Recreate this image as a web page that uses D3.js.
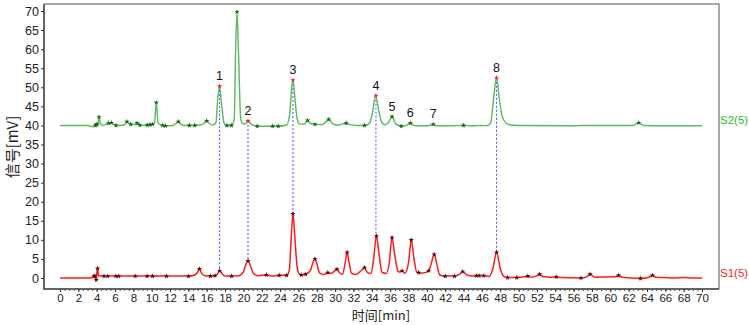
<!DOCTYPE html>
<html>
<head>
<meta charset="utf-8">
<script src="https://cdn.jsdelivr.net/npm/d3@7"></script>
<style>
  html, body { margin: 0; padding: 0; background: #ffffff; }
  svg { display: block; font-family: "Liberation Sans", Arial, sans-serif; }
</style>
</head>
<body>
<div id="chart"></div>
<script>
const WIDTH = 749;
const HEIGHT = 325;

// S2(5) trace: [time (min), signal (mV)]
const s2Trace = [
    [0, 40], [3.0, 40], [3.5, 39.7], [3.8, 39.9], [4.0, 40.3], [4.15, 40.4], [4.25, 42.2], [4.4, 40.5],
    [4.7, 40.0], [5.0, 40.3], [5.3, 40.6], [5.6, 40.7], [5.9, 40.2], [6.1, 40.0], [6.6, 40], [7.0, 40.1],
    [7.3, 41.0], [7.6, 40.3], [7.8, 40.3], [8.1, 40.2], [8.4, 40.6], [8.7, 40.1], [9.0, 40], [9.5, 40.1],
    [9.8, 40.2], [10.1, 40.3], [10.3, 40.6], [10.5, 46], [10.7, 40.6], [11.0, 40.1], [11.2, 40], [11.5, 39.9],
    [12.3, 40], [12.6, 40.4], [12.9, 41.0], [13.2, 40.3], [13.6, 40], [14.1, 40], [14.7, 40], [15.3, 40.1],
    [15.7, 40.5], [16.0, 41.2], [16.3, 40.5], [16.7, 40.1], [17.0, 40.8], [17.2, 47], [17.4, 50.3], [17.6, 46],
    [17.85, 41], [18.0, 40.1], [18.2, 40], [18.7, 40], [19.0, 41.8], [19.15, 60], [19.3, 69.8], [19.45, 60],
    [19.7, 42], [19.9, 40.5], [20.2, 40.4], [20.5, 41.2], [20.8, 40.4], [21.1, 40], [21.5, 39.8], [22.5, 39.8],
    [23.2, 39.8], [23.8, 39.8], [24.7, 40.1], [25.05, 43], [25.25, 49.5], [25.4, 51.9], [25.6, 47.5], [25.85, 41.8],
    [26.1, 40.4], [26.6, 40.3], [27.0, 41.3], [27.3, 40.5], [27.8, 40.3], [28.3, 40.2], [28.8, 40.5], [29.3, 41.6],
    [29.7, 40.5], [30.3, 40.1], [30.8, 40.4], [31.2, 40.6], [31.6, 40.2], [32.5, 40], [33.2, 40], [33.7, 40.4],
    [34.05, 43], [34.4, 47.8], [34.75, 44], [35.05, 41], [35.4, 40.2], [35.8, 40.7], [36.2, 42.3], [36.6, 40.4],
    [37.2, 39.8], [37.8, 40.1], [38.2, 40.6], [38.6, 40], [39.5, 39.9], [40.3, 40], [40.7, 40.3], [41.1, 39.9],
    [42.5, 39.9], [44.0, 40], [45.0, 39.9], [46.0, 40], [46.5, 39.9], [46.95, 40.6], [47.3, 47.5], [47.6, 52.5],
    [47.9, 47], [48.2, 42.5], [48.6, 40.7], [49.2, 40.1], [50, 40], [56, 39.9], [57, 40], [62.5, 40],
    [63.1, 40.7], [63.6, 40], [66, 39.9], [70, 39.9]
];

// S1(5) trace: [time (min), signal (mV)]
const s1Trace = [
    [0, 0], [3.3, 0], [3.6, 0.3], [3.8, 0.6], [3.95, -0.5], [4.0, 1.0], [4.1, 2.5], [4.2, 0.6],
    [4.5, 0.5], [4.8, 0.5], [5.2, 0.5], [6.1, 0.5], [6.4, 0.5], [8.2, 0.5], [9.5, 0.5], [10.1, 0.5],
    [11.6, 0.5], [14.0, 0.5], [14.7, 0.8], [15.0, 1.5], [15.2, 2.4], [15.45, 1.2], [15.8, 0.6], [16.4, 0.5],
    [16.9, 0.6], [17.2, 1.2], [17.4, 1.9], [17.7, 1.0], [18.0, 0.5], [18.7, 0.5], [19.5, 0.6], [20.0, 1.6],
    [20.3, 3.8], [20.5, 4.5], [20.8, 3.0], [21.1, 1.2], [21.6, 0.6], [22.5, 0.8], [23.2, 0.5], [23.9, 0.7],
    [24.7, 0.7], [25.0, 2], [25.2, 10], [25.4, 16.8], [25.6, 11], [25.85, 3], [26.1, 1.0], [26.3, 0.8],
    [26.8, 1.0], [27.3, 2], [27.6, 4.2], [27.8, 5.0], [28.0, 3.8], [28.3, 1.3], [28.7, 0.9], [29.2, 1.4],
    [29.6, 1.2], [30.0, 2], [30.2, 2.3], [30.5, 1.3], [30.8, 1.0], [31.1, 4], [31.3, 6.7], [31.5, 4.3],
    [31.8, 1.2], [32.3, 0.9], [32.9, 2.1], [33.2, 2.7], [33.5, 1.5], [33.9, 1.2], [34.2, 5], [34.5, 11.0],
    [34.8, 6], [35.1, 1.5], [35.6, 1.2], [35.9, 4], [36.2, 10.6], [36.5, 6], [36.85, 1.8], [37.0, 1.6],
    [37.3, 1.9], [37.6, 1.2], [38.0, 4], [38.3, 10.0], [38.6, 5], [38.9, 1.5], [39.1, 1.4], [39.6, 1.3],
    [40.2, 1.9], [40.5, 4], [40.8, 6.2], [41.1, 3.5], [41.4, 0.8], [42.0, 0.5], [43.0, 0.5], [43.6, 1.0],
    [43.9, 1.7], [44.3, 0.9], [45.0, 0.5], [45.4, 0.6], [45.7, 0.6], [46.2, 0.6], [46.8, 0.4], [47.2, 2.5],
    [47.6, 6.7], [48.0, 2.5], [48.4, 0.4], [48.8, 0.1], [49.8, 0.1], [50.6, 0.3], [51.0, 0.5], [51.5, 0.2],
    [52.0, 0.6], [52.3, 1.0], [52.7, 0.3], [53.5, 0.2], [54.1, 0.3], [54.6, 0.1], [56.8, 0.0], [57.4, 0.3],
    [57.8, 1.0], [58.3, 0.2], [60.5, 0.3], [60.9, 0.7], [61.3, 0.2], [63.3, -0.1], [64.2, 0.2], [64.6, 0.7],
    [65.0, 0.2], [66, 0.1], [67, 0.0], [68, 0.1], [69, 0.0], [70, 0.0]
];

// Integration markers on S2 (dark green)
const s2Marks = [
    [3.85, 40.0], [3.95, 40.2], [4.05, 40.3], [4.25, 42.2], [5.3, 40.6], [5.6, 40.7], [6.1, 40.0], [7.3, 41.0],
    [7.7, 40.3], [8.4, 40.6], [8.7, 40.1], [9.5, 40.1], [9.8, 40.2], [10.1, 40.3], [10.5, 46], [11.2, 40],
    [11.5, 39.9], [12.9, 41.0], [14.1, 40], [14.7, 40], [16.0, 41.2], [18.2, 40], [18.7, 40], [19.3, 69.8],
    [21.5, 39.8], [23.2, 39.8], [23.8, 39.8], [27.0, 41.3], [27.8, 40.3], [29.3, 41.6], [31.2, 40.6], [33.2, 40],
    [36.2, 42.3], [37.2, 39.8], [38.2, 40.6], [40.7, 40.3], [44.0, 40], [63.1, 40.7]
];

// Integration markers on S1 (dark red)
const s1Marks = [
    [3.7, 0.4], [3.8, 0.6], [3.95, -0.5], [4.1, 2.5], [4.8, 0.5], [5.2, 0.5], [6.1, 0.5], [6.4, 0.5],
    [8.2, 0.5], [9.5, 0.5], [10.1, 0.5], [11.6, 0.5], [14.0, 0.5], [15.2, 2.4], [16.4, 0.5], [16.9, 0.6],
    [17.4, 1.9], [18.7, 0.5], [20.5, 4.5], [22.5, 0.8], [23.9, 0.7], [24.7, 0.7], [25.4, 16.8], [26.3, 0.8],
    [26.8, 1.0], [27.8, 5.0], [29.2, 1.4], [30.2, 2.3], [31.3, 6.7], [33.2, 2.7], [34.5, 11.0], [36.2, 10.6],
    [37.3, 1.9], [38.3, 10.0], [39.1, 1.4], [40.2, 1.9], [40.8, 6.2], [42.0, 0.5], [43.0, 0.5], [43.9, 1.7],
    [45.4, 0.6], [45.7, 0.6], [46.2, 0.6], [47.6, 6.7], [48.8, 0.1], [49.8, 0.1], [51.0, 0.5], [52.3, 1.0],
    [54.1, 0.3], [56.8, 0.0], [57.8, 1.0], [60.9, 0.7], [63.3, -0.1], [64.6, 0.7]
];

// Numbered peaks on S2; matched ones carry the S1 apex for the connecting line
const peakLabels = ["1", "2", "3", "4", "5", "6", "7", "8"];
const peakTimes = [17.4, 20.5, 25.4, 34.45, 36.2, 38.2, 40.7, 47.6];
const peakS2 = [50.3, 41.2, 51.9, 47.8, 42.3, 40.6, 40.3, 52.5];
const peakMatched = [true, true, true, true, false, false, false, true];
const peakS1 = [1.9, 4.5, 16.8, 11.0, null, null, null, 6.7];

const xTicks = d3.range(0, 71, 2);
const xMinorTicks = d3.range(0, 70.01, 0.5);
const yTicks = d3.range(0, 71, 5);

const FRAME = { left: 44, top: 4, right: 719, bottom: 289 };

const svg = d3.select("#chart")
    .append("svg")
    .attr("width", WIDTH)
    .attr("height", HEIGHT);

const x = d3.scaleLinear().domain([0, 70]).range([60, 702]);
const y = d3.scaleLinear().domain([0, 70]).range([278, 11]);

// Frame: gray top/right, dark left/bottom
svg.append("path")
    .attr("d", `M${FRAME.left},${FRAME.top}H${FRAME.right}V${FRAME.bottom}`)
    .attr("fill", "none")
    .attr("stroke", "#8c8c8c")
    .attr("stroke-width", 1.5);

svg.append("path")
    .attr("d", `M${FRAME.left},${FRAME.top}V${FRAME.bottom}H${FRAME.right}`)
    .attr("fill", "none")
    .attr("stroke", "#333333")
    .attr("stroke-width", 1.5);

// Y axis
const yAxis = svg.append("g")
    .attr("transform", `translate(${FRAME.left},0)`)
    .call(d3.axisLeft(y).tickValues(yTicks).tickSize(3).tickPadding(2));
yAxis.select(".domain").remove();
yAxis.selectAll(".tick line").attr("stroke", "#333333");
yAxis.selectAll(".tick text")
    .style("font-size", "12.5px")
    .style("fill", "#222222");

// X axis: minor then major ticks
const xMinor = svg.append("g")
    .attr("transform", `translate(0,${FRAME.bottom})`)
    .call(d3.axisBottom(x).tickValues(xMinorTicks).tickSize(2).tickFormat(""));
xMinor.select(".domain").remove();
xMinor.selectAll(".tick line").attr("stroke", "#555555");

const xAxis = svg.append("g")
    .attr("transform", `translate(0,${FRAME.bottom})`)
    .call(d3.axisBottom(x).tickValues(xTicks).tickSize(3).tickPadding(2));
xAxis.select(".domain").remove();
xAxis.selectAll(".tick line").attr("stroke", "#333333");
xAxis.selectAll(".tick text")
    .style("font-size", "11.5px")
    .style("fill", "#222222");

// Axis titles
svg.append("text")
    .attr("transform", `translate(18,147) rotate(-90)`)
    .attr("text-anchor", "middle")
    .style("font-family", "\"Noto Sans CJK SC\", sans-serif")
    .style("font-size", "15px")
    .style("fill", "#222222")
    .text("信号[mV]");

svg.append("text")
    .attr("x", 381)
    .attr("y", 320)
    .attr("text-anchor", "middle")
    .style("font-family", "\"Noto Sans CJK SC\", sans-serif")
    .style("font-size", "13px")
    .style("fill", "#222222")
    .text("时间[min]");

// Dotted connectors between matched peaks
const linkIdx = d3.range(peakTimes.length).filter(i => peakMatched[i]);
svg.append("g")
    .selectAll("line")
    .data(linkIdx)
    .join("line")
    .attr("x1", i => x(peakTimes[i]))
    .attr("x2", i => x(peakTimes[i]))
    .attr("y1", i => y(peakS2[i]))
    .attr("y2", i => y(peakS1[i]))
    .attr("stroke", "#4a4aff")
    .attr("stroke-width", 1)
    .attr("stroke-dasharray", "2,2");

const line = d3.line()
    .x(d => x(d[0]))
    .y(d => y(d[1]))
    .curve(d3.curveMonotoneX);

svg.append("path")
    .datum(s2Trace)
    .attr("d", line)
    .attr("fill", "none")
    .attr("stroke", "#5cb85c")
    .attr("stroke-width", 1.4);

svg.append("path")
    .datum(s1Trace)
    .attr("d", line)
    .attr("fill", "none")
    .attr("stroke", "#ff1a1a")
    .attr("stroke-width", 1.5);

const marker = d3.symbol().type(d3.symbolStar).size(9);

svg.append("g")
    .selectAll("path")
    .data(s2Marks)
    .join("path")
    .attr("transform", d => `translate(${x(d[0])},${y(d[1])})`)
    .attr("d", marker)
    .attr("fill", "#0b6b0b");

svg.append("g")
    .selectAll("path")
    .data(s1Marks)
    .join("path")
    .attr("transform", d => `translate(${x(d[0])},${y(d[1])})`)
    .attr("d", marker)
    .attr("fill", "#5a0a0a");

// Numbered peak markers and labels
svg.append("g")
    .selectAll("path")
    .data(linkIdx)
    .join("path")
    .attr("transform", i => `translate(${x(peakTimes[i])},${y(peakS2[i])})`)
    .attr("d", marker)
    .attr("fill", "#ff2020");

svg.append("g")
    .selectAll("text")
    .data(peakLabels)
    .join("text")
    .attr("x", (d, i) => x(peakTimes[i]))
    .attr("y", (d, i) => y(peakS2[i]) - 6)
    .attr("text-anchor", "middle")
    .style("font-size", "12.5px")
    .style("fill", "#111111")
    .text(d => d);

// Series names on the right
svg.append("text")
    .attr("x", 720)
    .attr("y", y(40) - 1)
    .style("font-size", "11.5px")
    .style("fill", "#2db82d")
    .text("S2(5)");

svg.append("text")
    .attr("x", 720)
    .attr("y", y(0) - 1)
    .style("font-size", "11.5px")
    .style("fill", "#ff1a1a")
    .text("S1(5)");
</script>
</body>
</html>
